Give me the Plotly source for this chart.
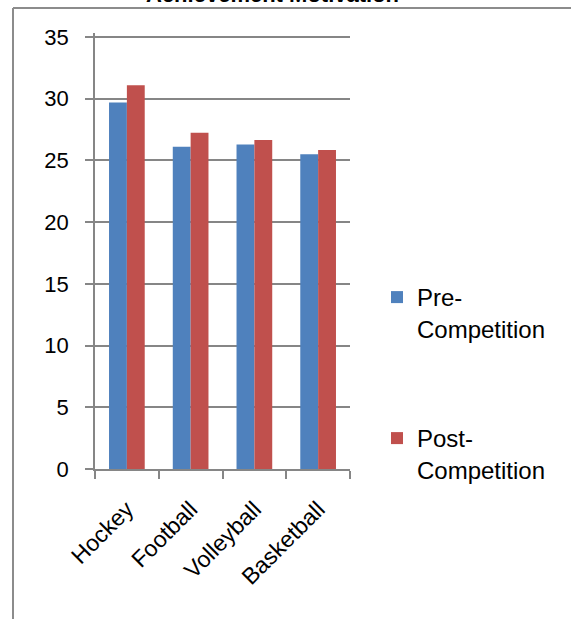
import plotly.graph_objects as go

categories = ["Hockey", "Football", "Volleyball", "Basketball"]
pre_values = [29.7, 26.1, 26.3, 25.5]
post_values = [31.1, 27.25, 26.65, 25.85]
series_names = ["Pre-<br>Competition", "Post-<br>Competition"]
y_ticks = [0, 5, 10, 15, 20, 25, 30, 35]
title_text = "Achievement Motivation"

W, H = 571, 619
L, R, T, B = 95, 221, 33, 150
pw, ph = W - L - R, H - T - B
y_top = 35 * ph / 432.0

def px(x):
    return (x - L) / pw

def py(y):
    return (H - B - y) / ph

FONT = "Liberation Sans"
GRID = "#868686"

fig = go.Figure()
fig.add_trace(go.Bar(x=categories, y=pre_values, name=series_names[0],
                     marker=dict(color="#4F81BD", line=dict(width=0)),
                     legend="legend"))
fig.add_trace(go.Bar(x=categories, y=post_values, name=series_names[1],
                     marker=dict(color="#C0504D", line=dict(width=0)),
                     legend="legend2"))

fig.update_layout(
    width=W, height=H,
    margin=dict(l=L, r=R, t=T, b=B, autoexpand=False),
    paper_bgcolor="white", plot_bgcolor="white",
    barmode="group", bargap=0.44, bargroupgap=0,
    font=dict(family=FONT, size=22, color="black"),
    legend=dict(x=px(377), y=py(275), xanchor="left", yanchor="top",
                valign="top", font=dict(size=24), bgcolor="rgba(0,0,0,0)"),
    legend2=dict(x=px(377), y=py(416), xanchor="left", yanchor="top",
                 valign="top", font=dict(size=24), bgcolor="rgba(0,0,0,0)"),
    xaxis=dict(showgrid=False, showline=True, linecolor=GRID, linewidth=1.5,
               ticks="outside", tickson="boundaries", ticklen=8, tickcolor=GRID,
               tickwidth=1.5, tickangle=-45, tickfont=dict(size=23),
               ticklabelstandoff=16),
    yaxis=dict(range=[0, y_top], tickvals=y_ticks, showgrid=True, gridcolor=GRID,
               gridwidth=1.5, showline=True, linecolor=GRID, linewidth=1.5,
               ticks="outside", ticklen=8, tickcolor=GRID, tickwidth=1.5,
               zeroline=False, tickfont=dict(size=22), ticklabelstandoff=12),
    showlegend=True,
)

fig.add_annotation(text="<b>" + title_text + "</b>", xref="paper", yref="paper",
                   x=px(272), y=py(-6), xanchor="center", yanchor="middle",
                   showarrow=False, font=dict(size=22, family=FONT, color="black"))

# outer chart border (top and left edges visible)
fig.add_shape(type="line", xref="paper", yref="paper", x0=px(13), x1=px(580),
              y0=py(8), y1=py(8), line=dict(color="#8C8C8C", width=2))
fig.add_shape(type="line", xref="paper", yref="paper", x0=px(13), x1=px(13),
              y0=py(8), y1=py(630), line=dict(color="#8C8C8C", width=2))

fig.write_html("out.html")
